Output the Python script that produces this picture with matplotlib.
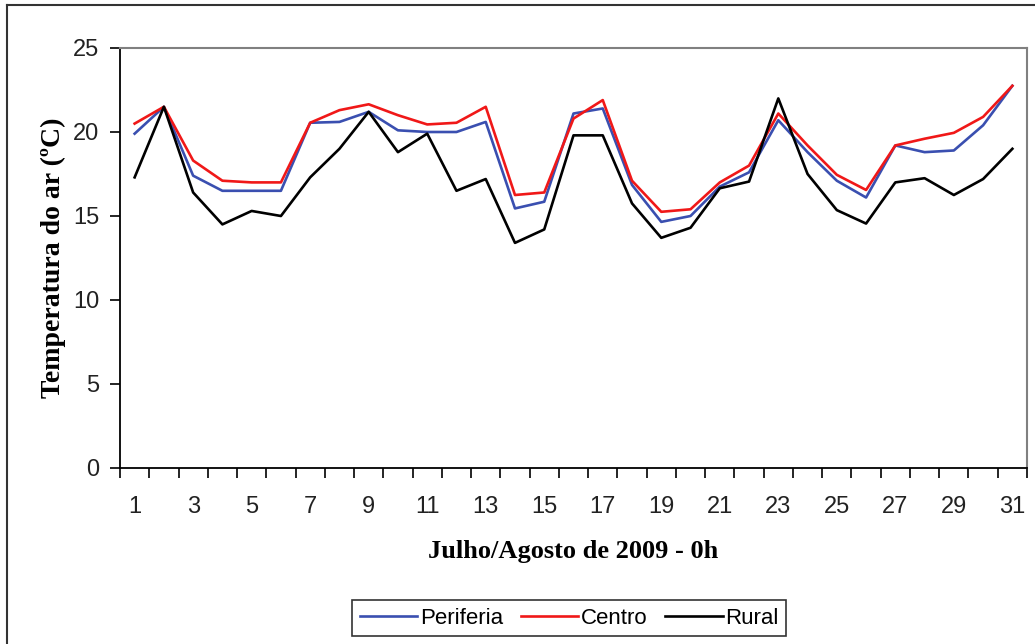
import numpy as np
import matplotlib
matplotlib.use('Agg')
from matplotlib import pyplot as plt
from matplotlib.lines import Line2D

days = list(range(1, 32))
periferia = [19.9, 21.5, 17.4, 16.5, 16.5, 16.5, 20.55, 20.6, 21.2, 20.1, 20.0,
             20.0, 20.6, 15.45, 15.85, 21.1, 21.4, 16.85, 14.65, 15.0, 16.75,
             17.6, 20.7, 18.8, 17.1, 16.1, 19.2, 18.8, 18.9, 20.4, 22.75]
centro = [20.5, 21.5, 18.3, 17.1, 17.0, 17.0, 20.55, 21.3, 21.65, 21.0, 20.45,
          20.55, 21.5, 16.25, 16.4, 20.8, 21.9, 17.1, 15.25, 15.4, 17.0,
          18.0, 21.1, 19.2, 17.45, 16.55, 19.2, 19.6, 19.95, 20.9, 22.75]
rural = [17.3, 21.5, 16.4, 14.5, 15.3, 15.0, 17.3, 19.0, 21.2, 18.8, 19.9,
         16.5, 17.2, 13.4, 14.2, 19.8, 19.8, 15.75, 13.7, 14.3, 16.65,
         17.05, 22.0, 17.5, 15.35, 14.55, 17.0, 17.25, 16.25, 17.2, 19.0]
labels = ['Periferia', 'Centro', 'Rural']
colors = ['#3a4fb0', '#f01818', '#000000']

fig = plt.figure(figsize=(10.35, 6.44), dpi=100)
ax = fig.add_axes([120/1035, 1 - 468/644, (1027-120)/1035, (468-48)/644])

for vals, lab, col in zip([periferia, centro, rural], labels, colors):
    ax.plot(days, vals, color=col, lw=1.9, label=lab)

ax.set_xlim(0.5, 31.5)
ax.set_ylim(0, 25)
ax.set_yticks(np.arange(0, 26, 5))
ax.set_xticks(days[::2])
ax.set_xticks(np.arange(0.5, 32, 1), minor=True)
ax.tick_params(axis='x', which='major', length=0, pad=20, labelsize=17)
ax.tick_params(axis='x', which='minor', length=7, width=1.2, direction='out')
ax.tick_params(axis='y', which='major', length=7, width=1.2, direction='out', pad=8, labelsize=17)
for lbl in ax.get_xticklabels() + ax.get_yticklabels():
    lbl.set_family('Liberation Sans')
    lbl.set_color('#222222')

ax.spines['top'].set_color('#808080')
ax.spines['right'].set_color('#808080')
ax.spines['top'].set_linewidth(1.5)
ax.spines['right'].set_linewidth(1.5)
ax.spines['left'].set_linewidth(1.3)
ax.spines['bottom'].set_linewidth(1.3)

ax.set_xlabel('Julho/Agosto de 2009 - 0h', family='Liberation Serif',
              fontweight='bold', fontsize=19, labelpad=16)
ax.set_ylabel('Temperatura do ar (ºC)', family='Liberation Serif',
              fontweight='bold', fontsize=20, labelpad=5)

handles = [Line2D([], [], color=c, lw=1.9) for c in colors]
leg = fig.legend(handles, labels, loc='center', bbox_to_anchor=(569/1035, 1 - 618/644),
                 ncol=3, frameon=True, fancybox=False, handlelength=2.6,
                 handletextpad=0.1, columnspacing=0.8, borderpad=0.35,
                 prop={'family': 'Liberation Sans', 'size': 16})
leg.get_frame().set_edgecolor('black')
leg.get_frame().set_linewidth(1.2)

# outer chart frame (only top and left visible)
fig.add_artist(Line2D([7/1035, 1.0], [1 - 5/644, 1 - 5/644], color='#333333',
                      lw=1.5, transform=fig.transFigure))
fig.add_artist(Line2D([7/1035, 7/1035], [0.0, 1 - 5/644], color='#333333',
                      lw=1.5, transform=fig.transFigure))

fig.savefig('out.png', dpi=100)
